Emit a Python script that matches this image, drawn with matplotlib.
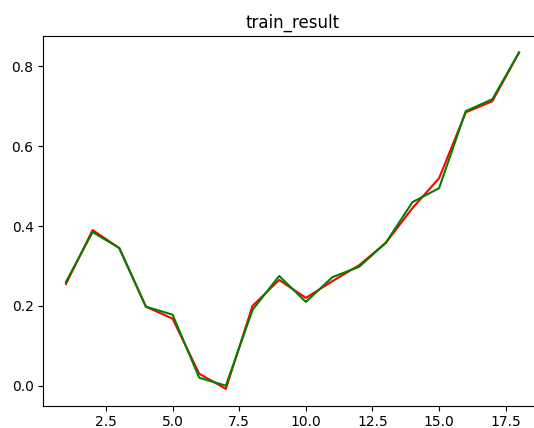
import matplotlib
matplotlib.use("Agg")
import matplotlib.pyplot as plt

epochs = list(range(1, 19))
predicted = [0.255, 0.390, 0.345, 0.198, 0.168, 0.030, -0.008, 0.200, 0.265, 0.220,
             0.262, 0.302, 0.358, 0.445, 0.520, 0.685, 0.713, 0.835]
actual = [0.260, 0.385, 0.345, 0.198, 0.178, 0.020, 0.000, 0.190, 0.275, 0.210,
          0.272, 0.298, 0.358, 0.460, 0.495, 0.688, 0.718, 0.835]

fig = plt.figure(figsize=(5.34, 4.28), dpi=100)
ax = fig.add_axes([0.0811, 0.0521, 0.9333, 0.8645])
ax.plot(epochs, predicted, color='r')
ax.plot(epochs, actual, color='g')
ax.set_title('train_result')
fig.savefig('out.png', dpi=100)
